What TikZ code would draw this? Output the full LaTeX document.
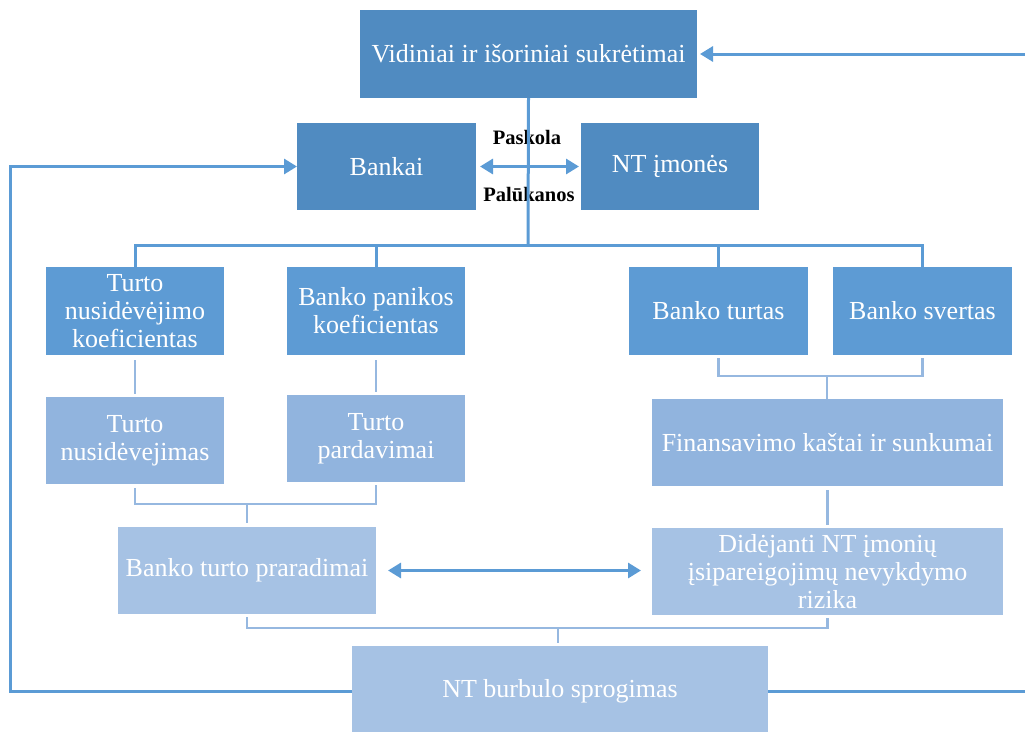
\documentclass[tikz,border=0pt]{standalone}
\usepackage{fontspec}
\setmainfont{Liberation Serif}
\usetikzlibrary{arrows.meta}
\definecolor{cTop}{RGB}{80,139,193}
\definecolor{cRow2}{RGB}{93,155,212}
\definecolor{cRow3}{RGB}{145,180,222}
\definecolor{cRow4}{RGB}{166,194,228}
\definecolor{cLine}{RGB}{91,155,213}
\definecolor{cLight}{RGB}{150,184,224}
\tikzset{
  box/.style={fill=#1, draw=none, text=white, align=center, inner sep=0pt, outer sep=0pt,
    font=\fontsize{26}{28}\selectfont},
  lbl/.style={text=black, font=\bfseries\fontsize{20.5}{22}\selectfont, inner sep=0pt},
  dline/.style={draw=cLine, line width=3pt},
  lline/.style={draw=cLight, line width=2.6pt},
  tip/.style={-{Triangle[width=15pt,length=13pt]}},
  dtip/.style={{Triangle[width=15pt,length=13pt]}-{Triangle[width=15pt,length=13pt]}}
}
\begin{document}
\begin{tikzpicture}[x=1pt,y=-1pt]
\useasboundingbox (0,0) rectangle (1025,731);
\clip (0,0) rectangle (1025,731);
% nodes
\node[box=cTop, minimum width=337pt, minimum height=88pt] (top) at (528.5,54) {Vidiniai ir išoriniai sukrėtimai};
\node[box=cTop, minimum width=179pt, minimum height=87pt] (bankai) at (386.5,166.5) {Bankai};
\node[box=cTop, minimum width=178pt, minimum height=87pt] (ntim) at (670,166.5) {NT įmonės};
\node[box=cRow2, minimum width=178pt, minimum height=88pt] (tnk) at (135,311) {Turto\\nusidėvėjimo\\koeficientas};
\node[box=cRow2, minimum width=178pt, minimum height=88pt] (bpk) at (376,311) {Banko panikos\\koeficientas};
\node[box=cRow2, minimum width=179pt, minimum height=88pt] (bt) at (718.5,311) {Banko turtas};
\node[box=cRow2, minimum width=179pt, minimum height=88pt] (bs) at (922.5,311) {Banko svertas};
\node[box=cRow3, minimum width=178pt, minimum height=87pt] (tn) at (135,440.5) {Turto\\nusidėvejimas};
\node[box=cRow3, minimum width=178pt, minimum height=87pt] (tp) at (376,438.5) {Turto\\pardavimai};
\node[box=cRow3, minimum width=351pt, minimum height=87pt] (fks) at (827.5,442.5) {Finansavimo kaštai ir sunkumai};
\node[box=cRow4, minimum width=258pt, minimum height=87pt] (btp) at (247,570.5) {Banko turto praradimai};
\node[box=cRow4, minimum width=351pt, minimum height=87pt] (did) at (827.5,571.5) {Didėjanti NT įmonių\\įsipareigojimų nevykdymo\\rizika};
\node[box=cRow4, minimum width=416pt, minimum height=90pt] (ntb) at (560,691) {NT burbulo sprogimas};
% labels
\node[lbl] (pask) at (527,137) {Paskola};
\node[lbl] (palu) at (529,195) {Palūkanos};
% coordinates
\coordinate (j1) at (528,245);
\coordinate (j2) at (827,376);
\coordinate (j3) at (247,504);
\coordinate (j4) at (558,628);
\coordinate (L) at (10,400);
\coordinate (R) at (1032,400);
% top tree
\draw[dline] (top.south) -- (j1);
\draw[dline] (tnk.north) |- (j1) -| (bs.north);
\draw[dline] (bpk.north) -- (bpk.north |- j1);
\draw[dline] (bt.north) -- (bt.north |- j1);
% bankai <-> nt
\draw[dline, dtip, shorten <=4pt, shorten >=2pt] (bankai.east) -- (ntim.west);
% row2 -> row3
\draw[lline, shorten <=5pt, shorten >=3pt] (tnk.south) -- (tn.north);
\draw[lline, shorten <=5pt, shorten >=3pt] (bpk.south) -- (tp.north);
\draw[lline, shorten <=3pt, shorten >=3pt] (bt.south) |- (j2) -| (bs.south);
\draw[lline] (j2) -- (j2 |- fks.north);
% fks -> did
\draw[lline, shorten <=4pt, shorten >=3pt] (fks.south) -- (did.north);
% row3 bracket
\draw[lline, shorten <=4pt, shorten >=3pt] (tn.south) |- (j3) -| (tp.south);
\draw[lline, shorten >=4pt] (j3) -- (j3 |- btp.north);
% row4 double arrow
\draw[dline, dtip, shorten <=12pt, shorten >=11pt] (btp.east) -- (btp.east -| did.west);
% row4 bracket
\draw[lline, shorten <=3pt, shorten >=3pt] (btp.south) |- (j4) -| (did.south);
\draw[lline, shorten >=3pt] (j4) -- (j4 |- ntb.north);
% feedback loops
\draw[dline, tip] (ntb.west) -| (L) |- (bankai.west);
\draw[dline, tip, shorten >=3pt] (ntb.east) -| (R) |- (top.east);
\end{tikzpicture}
\end{document}
